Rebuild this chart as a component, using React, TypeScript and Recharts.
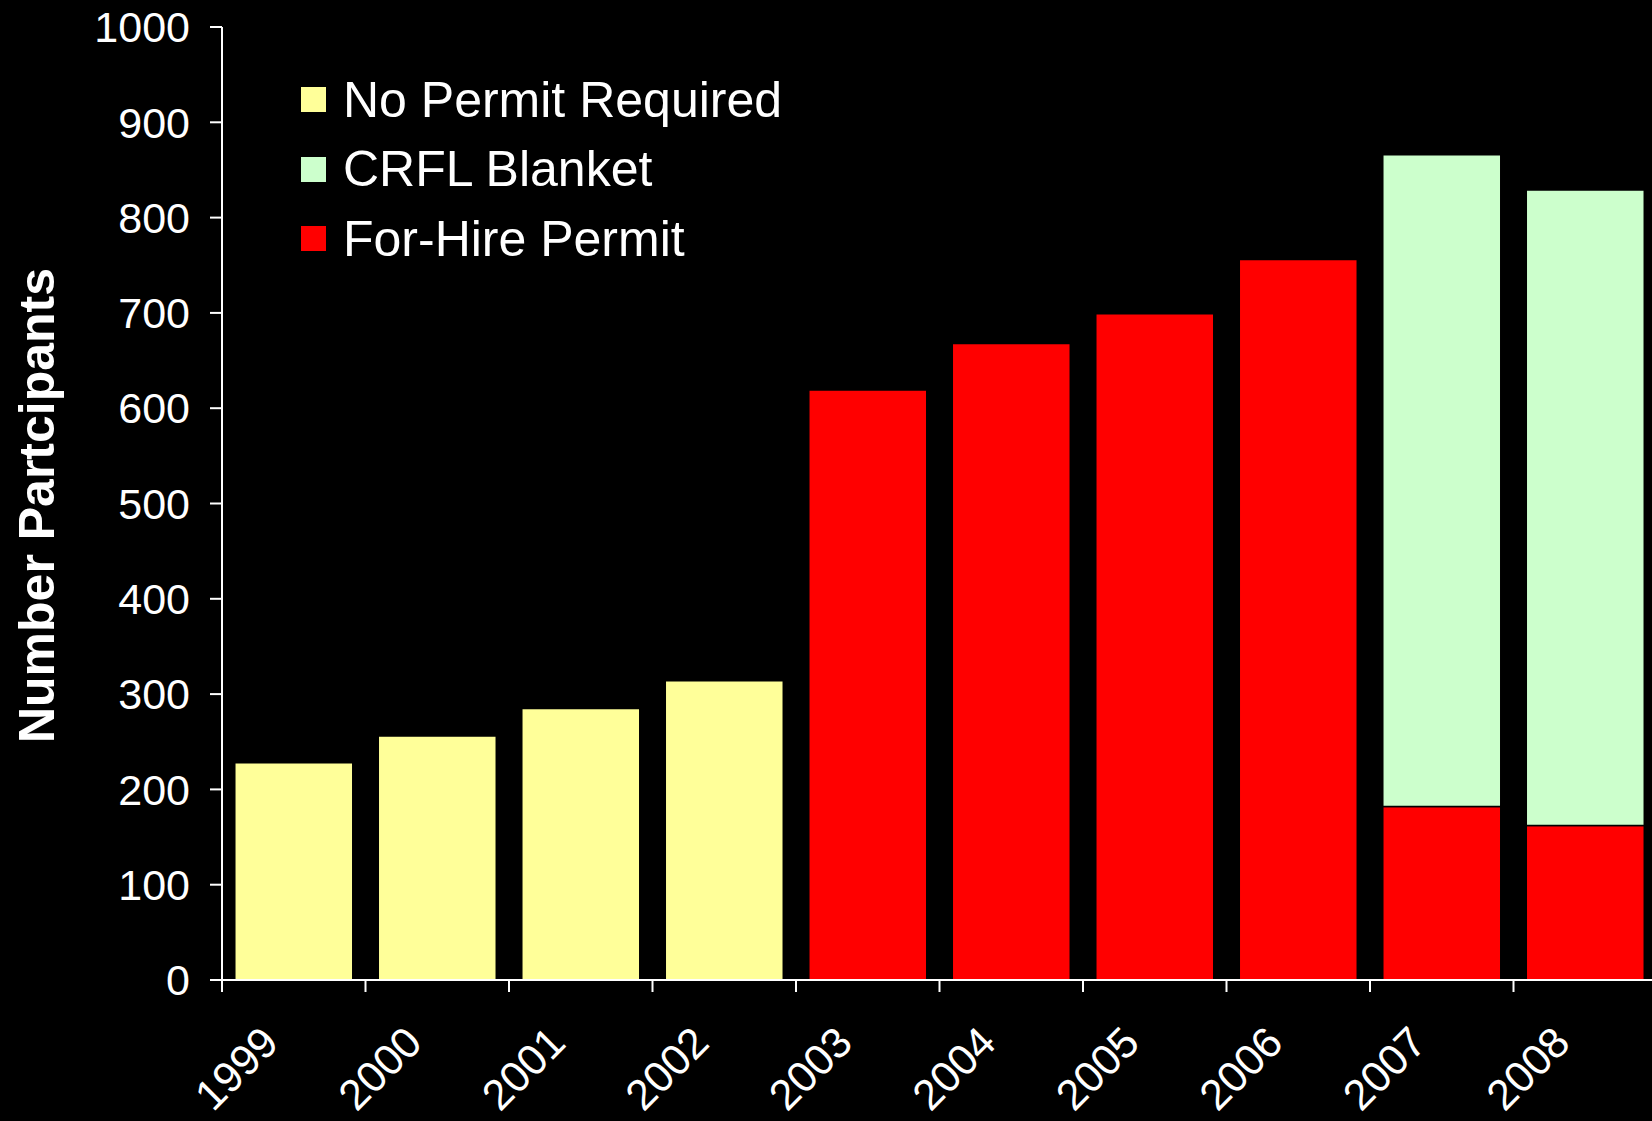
import React from "react";
import { BarChart, Bar, XAxis, YAxis, Legend } from "recharts";

const years = ["1999", "2000", "2001", "2002", "2003", "2004", "2005", "2006", "2007", "2008"];
const noPermitRequired = [228, 256, 285, 314, 0, 0, 0, 0, 0, 0];
const forHirePermit = [0, 0, 0, 0, 619, 668, 699, 756, 182, 162];
const crflBlanket = [0, 0, 0, 0, 0, 0, 0, 0, 684, 667];
const yTicks = [0, 100, 200, 300, 400, 500, 600, 700, 800, 900, 1000];

const seriesInfo = [
  { key: "noPermit", name: "No Permit Required", color: "#FFFF99" },
  { key: "crfl", name: "CRFL Blanket", color: "#CCFFCC" },
  { key: "forHire", name: "For-Hire Permit", color: "#FF0000" },
];

const data = years.map((y, i) => ({
  year: y,
  noPermit: noPermitRequired[i],
  forHire: forHirePermit[i],
  crfl: crflBlanket[i],
}));

const FONT = "'Liberation Sans', Arial, sans-serif";

const XTick = (props: any) => {
  const { x, y, payload, width } = props;
  const half = width ? width / years.length / 2 : 71.75;
  const tx = x - 13;
  const ty = y + 65;
  return (
    <g>
      <line x1={x - half} y1={y} x2={x - half} y2={y + 12} stroke="#fff" strokeWidth={2} />
      <text
        x={tx}
        y={ty}
        textAnchor="end"
        transform={`rotate(-45 ${tx} ${ty})`}
        fill="#fff"
        fontSize={43}
        fontFamily={FONT}
      >
        {payload.value}
      </text>
    </g>
  );
};

const renderLegend = () => (
  <div style={{ fontFamily: FONT, color: "#fff" }}>
    {seriesInfo.map((s) => (
      <div key={s.key} style={{ display: "flex", alignItems: "center", height: 69.5 }}>
        <div style={{ width: 25, height: 25, background: s.color, marginRight: 17 }} />
        <span style={{ fontSize: 50, whiteSpace: "nowrap" }}>{s.name}</span>
      </div>
    ))}
  </div>
);

const YLabel = (props: any) => {
  const vb = props.viewBox || { x: 0, y: 27, width: 222, height: 953 };
  const tx = vb.x + 54;
  const ty = vb.y + vb.height / 2 + 2;
  return (
    <text
      x={tx}
      y={ty}
      textAnchor="middle"
      transform={`rotate(-90 ${tx} ${ty})`}
      fill="#fff"
      fontSize={50}
      fontWeight="bold"
      fontFamily={FONT}
    >
      Number Partcipants
    </text>
  );
};

export default function App() {
  return (
    <div style={{ width: 1652, height: 1121, background: "#000" }}>
      <style>{`body{margin:0;background:#000;overflow:hidden}`}</style>
      <BarChart
        width={1652}
        height={1121}
        data={data}
        margin={{ top: 27, right: -5, left: 0, bottom: 0 }}
        barCategoryGap="8.9%"
      >
        <XAxis
          dataKey="year"
          height={141}
          axisLine={{ stroke: "#fff", strokeWidth: 2 }}
          tickLine={false}
          tickSize={0}
          tickMargin={0}
          tick={<XTick />}
          interval={0}
        />
        <YAxis
          width={222}
          domain={[0, 1000]}
          ticks={yTicks}
          interval={0}
          axisLine={{ stroke: "#fff", strokeWidth: 2 }}
          tickLine={{ stroke: "#fff", strokeWidth: 2 }}
          tickSize={12}
          tickMargin={20}
          tick={{ fill: "#fff", fontSize: 43, fontFamily: FONT }}
          label={{ content: <YLabel /> }}
        />
        <Legend
          layout="vertical"
          align="center"
          verticalAlign="middle"
          content={renderLegend}
          wrapperStyle={{ top: 65, left: 301, width: 520, height: 210 }}
        />
        <Bar dataKey="forHire" name="For-Hire Permit" stackId="a" fill="#FF0000" stroke="#000" strokeWidth={1.5} isAnimationActive={false} />
        <Bar dataKey="crfl" name="CRFL Blanket" stackId="a" fill="#CCFFCC" stroke="#000" strokeWidth={1.5} isAnimationActive={false} />
        <Bar dataKey="noPermit" name="No Permit Required" stackId="a" fill="#FFFF99" stroke="#000" strokeWidth={1.5} isAnimationActive={false} />
      </BarChart>
    </div>
  );
}
